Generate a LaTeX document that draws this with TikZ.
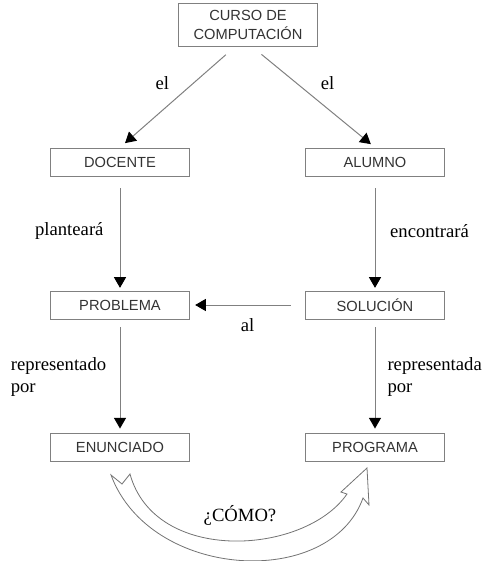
\documentclass[tikz,border=0pt]{standalone}
\usepackage{fontspec}
\setmainfont{Liberation Serif}
\setsansfont{Liberation Sans}
\usetikzlibrary{positioning, arrows.meta, calc}

\begin{document}
\begin{tikzpicture}[
    x=0.75pt, y=-0.75pt,
    box/.style={draw=black!50, line width=0.7pt, minimum width=104pt, minimum height=21pt, align=center, text=black!80, font=\sffamily\fontsize{11}{14}\selectfont},
    arrow/.style={-{Triangle[width=9pt, length=8pt, color=black]}, draw=black!50, line width=0.75pt},
    lbl/.style={font=\fontsize{14}{16.5}\selectfont, inner sep=0pt, align=left},
    bigarrow/.style={draw=black!55, line width=0.6pt, fill=white}
]
\useasboundingbox (0,0) rectangle (487,561);

% Course
\node[box, minimum height=32pt] (curso) at (248,25) {CURSO DE\\COMPUTACIÓN};

% Teacher and student
\node[box] (docente) at (120,162) {DOCENTE};
\node[box] (alumno) at (375,162) {ALUMNO};

% Problem and solution
\node[box] (problema) at (120,305) {PROBLEMA};
\node[box] (solucion) at (375,305) {SOLUCIÓN};

% Statement and program
\node[box] (enunciado) at (120,447) {ENUNCIADO};
\node[box] (programa) at (375,447) {PROGRAMA};

% Arrows
\draw[arrow, shorten <=9pt, shorten >=5pt] (curso.239) -- node[lbl, pos=0.36, left=18pt] {el} (docente.north);
\draw[arrow, shorten <=9pt, shorten >=4pt] (curso.281) -- node[lbl, pos=0.36, right=18pt] {el} (alumno.north);
\draw[arrow, shorten <=9pt, shorten >=2pt] (docente.south) -- node[lbl, pos=0.48, left=12pt] {planteará} (problema.north);
\draw[arrow, shorten <=9pt, shorten >=2pt] (alumno.south) -- node[lbl, pos=0.48, right=11pt] {encontrará} (solucion.north);
\draw[arrow, shorten <=11pt, shorten >=4pt] (solucion.west) -- node[lbl, pos=0.5, below=10pt] {al} (problema.east);
\draw[arrow, shorten <=6pt, shorten >=3pt] (problema.south) -- node[lbl, pos=0.51, left=10pt] {representado\\por} (enunciado.north);
\draw[arrow, shorten <=6pt, shorten >=3pt] (solucion.south) -- node[lbl, pos=0.51, right=9pt] {representada\\por} (programa.north);

% Curved block arrow
\draw[bigarrow] (111,475) -- (122,484) -- (130,474)
    .. controls (155,565) and (305,555) .. (347,494)
    -- (341,492) -- (367,468) -- (369,505) -- (363,498)
    .. controls (330,590) and (150,580) .. cycle;
\node[lbl] (como) at (240,515) {¿CÓMO?};
\end{tikzpicture}
\end{document}
